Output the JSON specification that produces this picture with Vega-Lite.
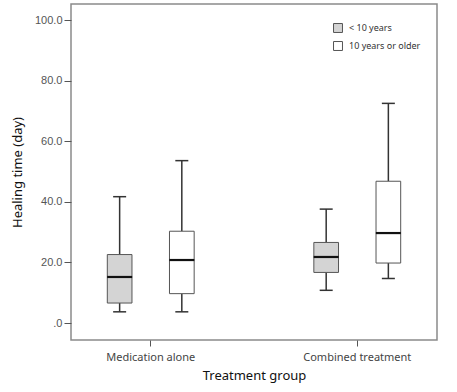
{
  "$schema": "https://vega.github.io/schema/vega-lite/v6.json",
  "width": 366,
  "height": 336,
  "autosize": {"type": "none"},
  "padding": {"left": 71, "top": 4, "right": 20, "bottom": 52},
  "background": "white",
  "config": {
    "view": {"stroke": "#8a8a8a", "strokeWidth": 1.5},
    "font": "Liberation Sans"
  },
  "data": {
    "values": [
      {"group": "Medication alone", "age": "< 10 years", "lower": 3.7, "q1": 6.6, "median": 15.2, "q3": 22.6, "upper": 41.7},
      {"group": "Medication alone", "age": "10 years or older", "lower": 3.7, "q1": 9.7, "median": 20.8, "q3": 30.3, "upper": 53.6},
      {"group": "Combined treatment", "age": "< 10 years", "lower": 10.8, "q1": 16.7, "median": 21.8, "q3": 26.6, "upper": 37.6},
      {"group": "Combined treatment", "age": "10 years or older", "lower": 14.7, "q1": 19.8, "median": 29.7, "q3": 46.8, "upper": 72.5}
    ]
  },
  "encoding": {
    "x": {
      "field": "group", "type": "nominal",
      "sort": ["Medication alone", "Combined treatment"],
      "scale": {"paddingInner": 0.5, "paddingOuter": 0.136},
      "axis": {
        "title": "Treatment group", "labelAngle": 0, "labelFontSize": 11, "labelColor": "#444",
        "labelFont": "Noto Sans", "titleFont": "Noto Sans",
        "titleFontSize": 13, "titleFontWeight": "normal", "titleColor": "#111",
        "tickSize": 6, "tickColor": "#555", "domain": false, "labelPadding": 5, "titlePadding": 7
      }
    },
    "xOffset": {
      "field": "age", "type": "nominal",
      "sort": ["< 10 years", "10 years or older"],
      "scale": {"paddingInner": 0.603, "paddingOuter": 0.132}
    }
  },
  "layer": [
    {
      "mark": {"type": "rule", "color": "#333", "strokeWidth": 1.5},
      "encoding": {
        "y": {
          "field": "lower", "type": "quantitative",
          "scale": {"domain": [-5.6, 105.3], "nice": false, "zero": false},
          "axis": {
            "title": "Healing time (day)", "values": [0, 20, 40, 60, 80, 100],
            "labelExpr": "datum.value == 0 ? '.0' : format(datum.value, '.1f')",
            "grid": false, "tickSize": 7, "tickColor": "#555", "domain": false,
            "labelFontSize": 11, "labelColor": "#555", "labelPadding": 2,
            "titleFontSize": 13, "titleFontWeight": "normal", "titleColor": "#111",
            "titleFont": "Noto Sans", "titlePadding": 10
          }
        },
        "y2": {"field": "q1"}
      }
    },
    {
      "mark": {"type": "rule", "color": "#333", "strokeWidth": 1.5},
      "encoding": {
        "y": {"field": "q3", "type": "quantitative"},
        "y2": {"field": "upper"}
      }
    },
    {
      "mark": {"type": "bar", "stroke": "#555", "strokeWidth": 1},
      "encoding": {
        "y": {"field": "q1", "type": "quantitative"},
        "y2": {"field": "q3"},
        "fill": {
          "field": "age", "type": "nominal",
          "sort": ["< 10 years", "10 years or older"],
          "scale": {"range": ["#d4d4d4", "#ffffff"]},
          "legend": {
            "title": null, "orient": "none", "legendX": 262, "legendY": 19,
            "symbolType": "square", "symbolSize": 80, "symbolStrokeColor": "#555",
            "symbolStrokeWidth": 1, "labelFontSize": 9, "labelColor": "#333",
            "labelFont": "Noto Sans", "rowPadding": 4, "labelOffset": 6
          }
        }
      }
    },
    {
      "mark": {"type": "tick", "color": "#111", "thickness": 2.2, "size": 25, "opacity": 1},
      "encoding": {"y": {"field": "median", "type": "quantitative"}}
    },
    {
      "mark": {"type": "tick", "color": "#333", "thickness": 1.5, "size": 13, "opacity": 1},
      "encoding": {"y": {"field": "upper", "type": "quantitative"}}
    },
    {
      "mark": {"type": "tick", "color": "#333", "thickness": 1.5, "size": 13, "opacity": 1},
      "encoding": {"y": {"field": "lower", "type": "quantitative"}}
    }
  ]
}
